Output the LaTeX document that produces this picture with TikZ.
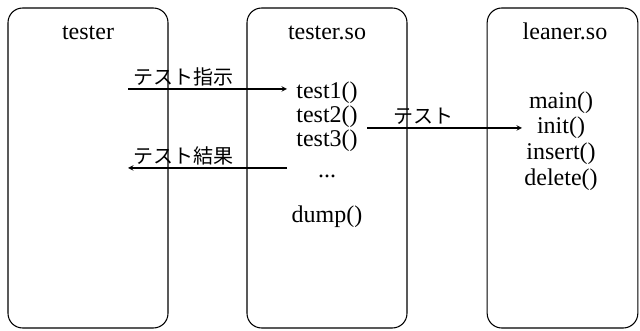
\documentclass[tikz,border=0pt]{standalone}
\usepackage{fontspec}
\setmainfont{Liberation Serif}
\newfontfamily\jpfont{Noto Sans CJK JP}
\usetikzlibrary{arrows,positioning}

\begin{document}
\begin{tikzpicture}[
    x=0.75pt, y=-0.75pt,
    panel/.style={draw, rounded corners=11pt, line width=0.8pt, minimum height=240pt, inner sep=0pt},
    func/.style={font=\fontsize{18}{22}\selectfont, anchor=base, inner sep=0pt},
    jplabel/.style={font=\jpfont\fontsize{15}{18}\selectfont, anchor=base west, inner sep=0pt},
    arrow/.style={->, line width=0.8pt, >=stealth}
]
    \useasboundingbox (0,0) rectangle (640,331);

    % tester
    \node[panel, minimum width=120pt] (tester) at (88,168) {};
    \node[func] (testertitle) at (88,40) {tester};

    % tester.so
    \node[panel, minimum width=120pt] (testerso) at (327,168) {};
    \node[func] (testersotitle) at (327,40) {tester.so};
    \node[func] (test1) at (327,99) {test1()};
    \node[func] (test2) at (327,123) {test2()};
    \node[func] (test3) at (327,147) {test3()};
    \node[func] (dots) at (327,178) {...};
    \node[func] (dump) at (327,223) {dump()};

    % leaner.so
    \node[panel, minimum width=113pt] (leanerso) at (562.5,168) {};
    \node[func] (leanersotitle) at (565,40) {leaner.so};
    \node[func] (main) at (561,109) {main()};
    \node[func] (init) at (561,134) {init()};
    \node[func] (insert) at (561,160) {insert()};
    \node[func] (delete) at (561,186) {delete()};

    % Arrows
    \coordinate (ordstart) at (128,89);
    \coordinate (ordend) at (287,89);
    \draw[arrow] (ordstart) -- (ordend);
    \node[jplabel] (ordlabel) at (133,85) {テスト指示};

    \coordinate (callstart) at (367,128);
    \coordinate (callend) at (522,128);
    \draw[arrow] (callstart) -- (callend);
    \node[jplabel] (calllabel) at (393,124) {テスト};

    \coordinate (resstart) at (287,168);
    \coordinate (resend) at (128,168);
    \draw[arrow] (resstart) -- (resend);
    \node[jplabel] (reslabel) at (133,164) {テスト結果};
\end{tikzpicture}
\end{document}
